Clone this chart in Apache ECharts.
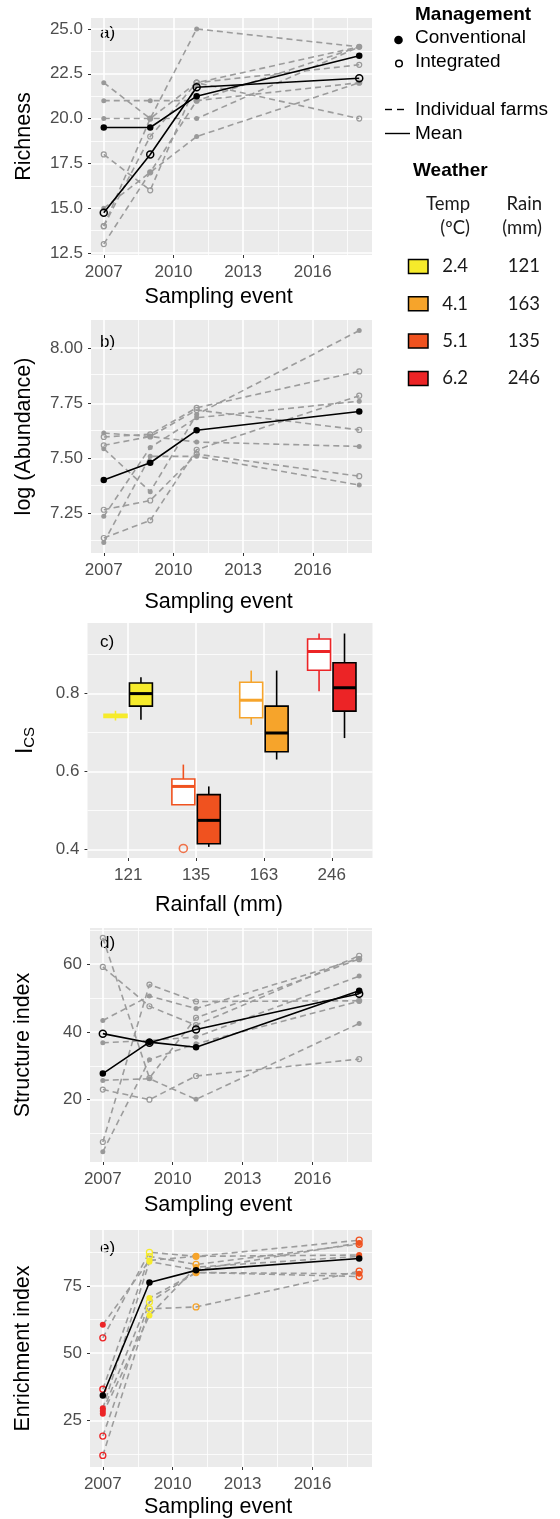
<!DOCTYPE html>
<html>
<head>
<meta charset="utf-8">
<script src="https://cdn.jsdelivr.net/npm/echarts@6/dist/echarts.min.js"></script>
<style>
  html, body { margin: 0; padding: 0; background: #fff; }
  #chart { width: 560px; height: 1519px; }
</style>
</head>
<body>
<div id="chart"></div>
<script>
// ---- Sampling years and axis ticks ----
const years = [2007, 2009, 2011, 2018];
const yearTicks = [2007, 2010, 2013, 2016];
const yearMinorGrid = [2008.5, 2011.5, 2014.5, 2017.5];

// ---- a) Richness ----
const richnessConventional = [
  [22, 20, 25, 24],
  [21, 21, 21, 24],
  [20, 20, 20, 24],
  [15, 17, 19, 22]
];
const richnessIntegrated = [
  [18, 16, 22, 20],
  [14, 20, 22, 24],
  [14, 19, 22, 23],
  [13, 17, 21, 22]
];
const richnessMeanConventional = [19.5, 19.5, 21.25, 23.5];
const richnessMeanIntegrated = [14.75, 18, 21.75, 22.25];
const richnessTicks = [12.5, 15, 17.5, 20, 22.5, 25];
const richnessMinorGrid = [13.75, 16.25, 18.75, 21.25, 23.75];

// ---- b) log (Abundance) ----
const abundanceConventional = [
  [7.616, 7.60, 7.575, 7.555],
  [7.545, 7.35, 7.70, 8.08],
  [7.238, 7.55, 7.685, 7.76],
  [7.12, 7.51, 7.51, 7.38]
];
const abundanceIntegrated = [
  [7.598, 7.61, 7.73, 7.895],
  [7.56, 7.60, 7.72, 7.63],
  [7.268, 7.31, 7.52, 7.42],
  [7.14, 7.22, 7.54, 7.785]
];
const abundanceMean = [7.403, 7.481, 7.628, 7.713];
const abundanceTicks = [7.25, 7.5, 7.75, 8.0];
const abundanceMinorGrid = [7.125, 7.375, 7.625, 7.875];

// ---- c) I_CS by rainfall: [low whisker, Q1, median, Q3, high whisker] ----
const rainfallCategories = ['121', '135', '163', '246'];
const icsIntegrated = [
  [0.731, 0.739, 0.743, 0.747, 0.756],
  [0.515, 0.515, 0.562, 0.581, 0.618],
  [0.720, 0.738, 0.783, 0.829, 0.859],
  [0.806, 0.860, 0.908, 0.940, 0.954]
];
const icsConventional = [
  [0.733, 0.768, 0.800, 0.827, 0.842],
  [0.407, 0.415, 0.475, 0.541, 0.562],
  [0.631, 0.651, 0.699, 0.768, 0.859],
  [0.686, 0.755, 0.815, 0.879, 0.954]
];
const icsOutliersIntegrated = [[2, 0.403]];   // [rainfall position, value]
const icsTicks = [0.4, 0.6, 0.8];
const icsMinorGrid = [0.5, 0.7, 0.9];

// ---- d) Structure index ----
const structureConventional = [
  [43.4, 50.6, 46.9, 61.7],
  [36.8, 37.5, 38.5, 56.5],
  [25.7, 26.2, 20.1, 42.5],
  [4.6, 31.8, 36.5, 49.1]
];
const structureIntegrated = [
  [67.8, 26.4, 44.2, 61.5],
  [59.2, 47.6, 42.0, 62.5],
  [23.0, 20.0, 27.0, 32.0],
  [7.5, 54.0, 49.0, 49.2]
];
const structureMeanConventional = [27.7, 37.0, 35.5, 52.2];
const structureMeanIntegrated = [39.5, 36.8, 40.7, 51.3];
const structureTicks = [20, 40, 60];
const structureMinorGrid = [10, 30, 50, 70];

// ---- e) Enrichment index ----
const enrichmentConventional = [
  [60.6, 84.5, 86, 86.5],
  [29.5, 84, 81, 91],
  [28.5, 70.5, 80, 79.5],
  [27.5, 64, 82, 86]
];
const enrichmentIntegrated = [
  [55.7, 87.5, 86, 92],
  [36.6, 86, 83, 90.5],
  [19.2, 69, 80, 78.5],
  [12.0, 66.5, 67.2, 80.5]
];
const enrichmentMean = [34.3, 76.3, 80.8, 85.2];
const enrichmentTicks = [25, 50, 75];
const enrichmentMinorGrid = [12.5, 37.5, 62.5, 87.5];

// ---- Weather per sampling event ----
const weatherTemp = ['2.4', '4.1', '5.1', '6.2'];
const weatherRain = ['121', '163', '135', '246'];
const yearRain = ['246', '121', '163', '135'];

// ---- Styling ----
const FONT = '"Liberation Sans", Arial, Helvetica, sans-serif';
const TABLE_FONT = 'Lato, "Open Sans", sans-serif';
const rainColor = { '121': '#F6EB2B', '163': '#F6A42B', '135': '#F0521F', '246': '#EC2426' };
const FARM_LINE = '#9c9c9c';
const FARM_POINT = '#999999';

const grids = [
  { left: 91, top: 18, width: 281, height: 237 },
  { left: 91, top: 320, width: 281, height: 233 },
  { left: 87.5, top: 623, width: 285, height: 235 },
  { left: 90, top: 928, width: 282, height: 234 },
  { left: 90, top: 1230, width: 282, height: 237 }
];

function xAxisYears(gi, nameGap) {
  return {
    gridIndex: gi, type: 'value', min: 2006.45, max: 2018.55,
    axisLine: { show: false }, splitLine: { show: false },
    axisTick: { show: true, length: 3, customValues: yearTicks, lineStyle: { color: '#333', width: 1 } },
    axisLabel: { customValues: yearTicks, formatter: v => String(Math.round(v)),
      color: '#4d4d4d', fontSize: 17, fontFamily: FONT, margin: 9 },
    name: 'Sampling event', nameLocation: 'middle', nameGap: nameGap,
    nameTextStyle: { fontSize: 21.5, color: '#000', fontFamily: FONT, padding: [0, 26, 0, 0] }
  };
}

function yAxisValue(gi, min, max, ticks, fmt, name, nameGap) {
  return {
    gridIndex: gi, type: 'value', min: min, max: max,
    axisLine: { show: false }, splitLine: { show: false },
    axisTick: { show: true, length: 3, customValues: ticks, lineStyle: { color: '#333', width: 1 } },
    axisLabel: { customValues: ticks, formatter: fmt, color: '#4d4d4d', fontSize: 17, fontFamily: FONT, margin: 8 },
    name: name, nameLocation: 'middle', nameGap: nameGap, nameRotate: 90,
    nameTextStyle: { fontSize: 21.5, color: '#000', fontFamily: FONT }
  };
}

// White major / minor grid lines drawn through each panel's scales
function gridLines(gi, xMajor, xMinor, yMajor, yMinor) {
  const major = { color: '#ffffff', width: 1.6, type: 'solid' };
  const minor = { color: '#ffffff', width: 0.8, type: 'solid' };
  const data = []
    .concat(xMinor.map(v => ({ xAxis: v, lineStyle: minor })))
    .concat(yMinor.map(v => ({ yAxis: v, lineStyle: minor })))
    .concat(xMajor.map(v => ({ xAxis: v, lineStyle: major })))
    .concat(yMajor.map(v => ({ yAxis: v, lineStyle: major })));
  return {
    type: 'line', xAxisIndex: gi, yAxisIndex: gi, data: [], silent: true, z: 1, animation: false,
    markLine: { silent: true, z: 1, symbol: ['none', 'none'], label: { show: false },
      emphasis: { disabled: true }, animation: false, data: data }
  };
}

function pointStyle(open, color, lw) {
  return open
    ? { color: 'rgba(0,0,0,0)', borderColor: color, borderWidth: lw }
    : { color: color, borderWidth: 0 };
}

// Individual farms: dashed grey lines, filled (conventional) or open (integrated) points
function farmSeries(gi, rows, open, colorByYear) {
  return rows.map(r => ({
    type: 'line', xAxisIndex: gi, yAxisIndex: gi, silent: true, z: 2, animation: false,
    symbol: 'circle', symbolSize: colorByYear ? 6 : 5, showSymbol: true,
    lineStyle: { color: FARM_LINE, width: 1.6, type: [6, 4] },
    itemStyle: pointStyle(open, FARM_POINT, 1.2),
    data: years.map((y, i) => colorByYear
      ? { value: [y, r[i]], itemStyle: pointStyle(open, rainColor[yearRain[i]], 1.3) }
      : [y, r[i]])
  }));
}

function meanSeries(gi, vals, open) {
  return {
    type: 'line', xAxisIndex: gi, yAxisIndex: gi, silent: true, z: 3, animation: false,
    symbol: 'circle', symbolSize: open ? 7 : 6.5, showSymbol: true,
    lineStyle: { color: '#000', width: 1.6, type: 'solid' },
    itemStyle: pointStyle(open, '#000', 1.5),
    data: years.map((y, i) => [y, vals[i]])
  };
}

// Box plots for panel c, dodged: integrated left, conventional right
const DODGE = 0.1875, BOX_HALF = 0.169;
function boxSeries(gi, stats, side, integrated) {
  return {
    type: 'custom', xAxisIndex: gi, yAxisIndex: gi, silent: true, z: 3, animation: false,
    data: stats.map((s, i) => [i + 1, s[0], s[1], s[2], s[3], s[4]]),
    encode: { x: 0, y: [1, 2, 3, 4, 5] },
    renderItem: function (params, api) {
      const idx = params.dataIndex;
      const col = rainColor[rainfallCategories[idx]];
      const stroke = integrated ? col : '#000';
      const fill = integrated ? '#ffffff' : col;
      const xc = api.value(0) + side * DODGE;
      const pLow = api.coord([xc, api.value(1)]);
      const pQ1 = api.coord([xc - BOX_HALF, api.value(2)]);
      const pMed = api.coord([xc, api.value(3)]);
      const pQ3 = api.coord([xc + BOX_HALF, api.value(4)]);
      const pHigh = api.coord([xc, api.value(5)]);
      const lw = 1.6;
      return {
        type: 'group',
        children: [
          { type: 'line', shape: { x1: pHigh[0], y1: pHigh[1], x2: pHigh[0], y2: pQ3[1] }, style: { stroke: stroke, lineWidth: lw } },
          { type: 'line', shape: { x1: pLow[0], y1: pQ1[1], x2: pLow[0], y2: pLow[1] }, style: { stroke: stroke, lineWidth: lw } },
          { type: 'rect', shape: { x: pQ1[0], y: pQ3[1], width: pQ3[0] - pQ1[0], height: pQ1[1] - pQ3[1] },
            style: { fill: fill, stroke: stroke, lineWidth: lw } },
          { type: 'line', shape: { x1: pQ1[0], y1: pMed[1], x2: pQ3[0], y2: pMed[1] }, style: { stroke: stroke, lineWidth: 3 } }
        ]
      };
    }
  };
}

const xAxes = [
  xAxisYears(0, 31),
  xAxisYears(1, 38),
  {
    gridIndex: 2, type: 'value', min: 0.4, max: 4.6,
    axisLine: { show: false }, splitLine: { show: false },
    axisTick: { show: true, length: 3, customValues: [1, 2, 3, 4], lineStyle: { color: '#333', width: 1 } },
    axisLabel: { customValues: [1, 2, 3, 4], formatter: v => rainfallCategories[Math.round(v) - 1],
      color: '#4d4d4d', fontSize: 17, fontFamily: FONT, margin: 9 },
    name: 'Rainfall (mm)', nameLocation: 'middle', nameGap: 36,
    nameTextStyle: { fontSize: 21.5, color: '#000', fontFamily: FONT, padding: [0, 22, 0, 0] }
  },
  xAxisYears(3, 32),
  xAxisYears(4, 29)
];

const yAxes = [
  yAxisValue(0, 12.39, 25.61, richnessTicks, v => v.toFixed(1), 'Richness', 56),
  yAxisValue(1, 7.072, 8.128, abundanceTicks, v => v.toFixed(2), 'log (Abundance)', 56),
  Object.assign(yAxisValue(2, 0.3785, 0.981, icsTicks, v => v.toFixed(1), '{i|I}{s|CS}', 50), {
    nameTextStyle: { color: '#000', fontFamily: FONT,
      rich: { i: { fontSize: 23, lineHeight: 30, verticalAlign: 'bottom', fontFamily: FONT, color: '#000' },
              s: { fontSize: 15, lineHeight: 14, verticalAlign: 'bottom', fontFamily: FONT, color: '#000' } } }
  }),
  yAxisValue(3, 1.6, 70.7, structureTicks, v => String(v), 'Structure index', 56),
  yAxisValue(4, 7.7, 95.8, enrichmentTicks, v => String(v), 'Enrichment index', 56)
];

const series = [
  gridLines(0, yearTicks, yearMinorGrid, richnessTicks, richnessMinorGrid),
  gridLines(1, yearTicks, yearMinorGrid, abundanceTicks, abundanceMinorGrid),
  gridLines(2, [1, 2, 3, 4], [], icsTicks, icsMinorGrid),
  gridLines(3, yearTicks, yearMinorGrid, structureTicks, structureMinorGrid),
  gridLines(4, yearTicks, yearMinorGrid, enrichmentTicks, enrichmentMinorGrid)
]
  .concat(farmSeries(0, richnessConventional, false))
  .concat(farmSeries(0, richnessIntegrated, true))
  .concat([meanSeries(0, richnessMeanConventional, false), meanSeries(0, richnessMeanIntegrated, true)])
  .concat(farmSeries(1, abundanceConventional, false))
  .concat(farmSeries(1, abundanceIntegrated, true))
  .concat([meanSeries(1, abundanceMean, false)])
  .concat([
    boxSeries(2, icsIntegrated, -1, true),
    boxSeries(2, icsConventional, 1, false),
    {
      type: 'scatter', xAxisIndex: 2, yAxisIndex: 2, silent: true, z: 4, animation: false,
      symbol: 'circle', symbolSize: 8,
      itemStyle: { color: 'rgba(0,0,0,0)', borderColor: rainColor['135'], borderWidth: 1.6 },
      data: icsOutliersIntegrated.map(p => [p[0] - DODGE, p[1]])
    }
  ])
  .concat(farmSeries(3, structureConventional, false))
  .concat(farmSeries(3, structureIntegrated, true))
  .concat([meanSeries(3, structureMeanConventional, false), meanSeries(3, structureMeanIntegrated, true)])
  .concat(farmSeries(4, enrichmentConventional, false, true))
  .concat(farmSeries(4, enrichmentIntegrated, true, true))
  .concat([meanSeries(4, enrichmentMean, false)]);

// Panel tags and the legend block
function txt(x, y, text, font, align, fill) {
  return { type: 'text', x: x, y: y, silent: true,
    style: { text: text, font: font, fill: fill || '#000', align: align || 'left', verticalAlign: 'middle' } };
}
const panelTags = [['a)', 33], ['b)', 342], ['c)', 642], ['d)', 943], ['e)', 1248]];
const graphic = panelTags.map(t => txt(100, t[1], t[0], '17px ' + FONT));

graphic.push(txt(415, 15, 'Management', 'bold 19px ' + FONT));
graphic.push({ type: 'circle', silent: true, shape: { cx: 398.5, cy: 40, r: 4.3 }, style: { fill: '#000' } });
graphic.push(txt(415, 37.5, 'Conventional', '19px ' + FONT));
graphic.push({ type: 'circle', silent: true, shape: { cx: 399, cy: 63.5, r: 3.3 }, style: { fill: 'none', stroke: '#000', lineWidth: 1.5 } });
graphic.push(txt(415, 62, 'Integrated', '19px ' + FONT));
graphic.push({ type: 'line', silent: true, shape: { x1: 385, y1: 109.5, x2: 392, y2: 109.5 }, style: { stroke: '#000', lineWidth: 1.4 } });
graphic.push({ type: 'line', silent: true, shape: { x1: 397, y1: 109.5, x2: 404, y2: 109.5 }, style: { stroke: '#000', lineWidth: 1.4 } });
graphic.push(txt(415, 109.5, 'Individual farms', '19px ' + FONT));
graphic.push({ type: 'line', silent: true, shape: { x1: 385, y1: 133.5, x2: 410, y2: 133.5 }, style: { stroke: '#000', lineWidth: 1.4 } });
graphic.push(txt(415, 133.5, 'Mean', '19px ' + FONT));
graphic.push(txt(413, 171, 'Weather', 'bold 19px ' + FONT));
graphic.push(txt(470, 204, 'Temp', '18.5px ' + TABLE_FONT, 'right', '#1a1a1a'));
graphic.push(txt(470, 228.5, '(ºC)', '18.5px ' + TABLE_FONT, 'right', '#1a1a1a'));
graphic.push(txt(542, 204, 'Rain', '18.5px ' + TABLE_FONT, 'right', '#1a1a1a'));
graphic.push(txt(542, 228.5, '(mm)', '18.5px ' + TABLE_FONT, 'right', '#1a1a1a'));
weatherTemp.forEach((t, i) => {
  const cy = 266.5 + i * 37.3;
  graphic.push({ type: 'rect', silent: true, shape: { x: 408.5, y: cy - 7, width: 19.5, height: 14 },
    style: { fill: rainColor[weatherRain[i]], stroke: '#000', lineWidth: 1.5 } });
  graphic.push(txt(468, cy, t, '18.5px ' + TABLE_FONT, 'right', '#1a1a1a'));
  graphic.push(txt(540, cy, weatherRain[i], '18.5px ' + TABLE_FONT, 'right', '#1a1a1a'));
});

const chart = echarts.init(document.getElementById('chart'), null, { renderer: 'canvas' });
chart.setOption({
  animation: false,
  backgroundColor: '#ffffff',
  grid: grids.map(g => Object.assign({ show: true, backgroundColor: '#EBEBEB', borderWidth: 0,
    containLabel: false, outerBoundsMode: 'none' }, g)),
  xAxis: xAxes,
  yAxis: yAxes,
  series: series,
  graphic: graphic
});
</script>
</body>
</html>
